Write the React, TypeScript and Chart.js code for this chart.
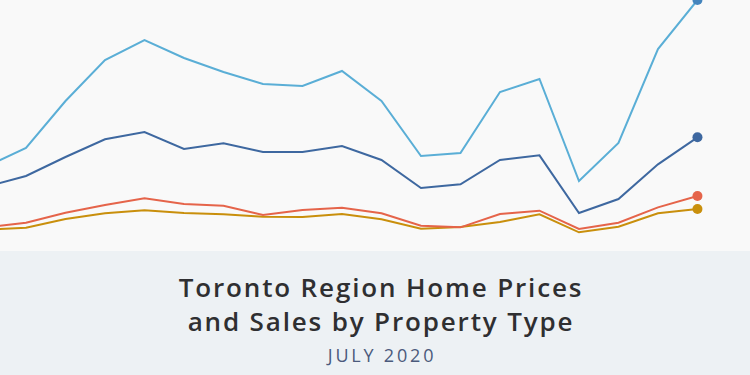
import React, { useEffect, useRef } from "react";
import { Chart, registerables } from "chart.js";

Chart.register(...registerables);

const months = [
  "Jan 2019", "Feb 2019", "Mar 2019", "Apr 2019", "May 2019", "Jun 2019",
  "Jul 2019", "Aug 2019", "Sep 2019", "Oct 2019", "Nov 2019", "Dec 2019",
  "Jan 2020", "Feb 2020", "Mar 2020", "Apr 2020", "May 2020", "Jun 2020", "Jul 2020",
];

const detached = [751, 806, 947, 1070, 1130, 1076, 1034, 998, 992, 1037, 947, 782, 791, 974, 1013, 707, 821, 1103, 1250];
const semiDetached = [690, 722, 779, 832, 854, 803, 820, 794, 794, 812, 770, 686, 697, 770, 784, 611, 653, 757, 838];
const townhouse = [568, 582, 612, 635, 655, 638, 633, 605, 620, 627, 610, 573, 568, 608, 618, 563, 582, 628, 662];
const condo = [561, 567, 593, 610, 619, 611, 607, 600, 599, 608, 592, 564, 569, 584, 607, 553, 570, 610, 623];

const titleLine1 = "Toronto Region Home Prices";
const titleLine2 = "and Sales by Property Type";
const subtitle = "JULY 2020";

const series = [
  { label: "Detached", data: detached, color: "#5aaed6", dot: "#4585bd" },
  { label: "Semi-Detached", data: semiDetached, color: "#3e68a0", dot: "#3e68a0" },
  { label: "Townhouse", data: townhouse, color: "#e5644a", dot: "#e5644a" },
  { label: "Condo Apartment", data: condo, color: "#c98f0c", dot: "#c98f0c" },
];

export default function App() {
  const ref = useRef<HTMLCanvasElement | null>(null);

  useEffect(() => {
    if (!ref.current) return;
    const last = months.length - 1;
    const chart = new Chart(ref.current, {
      type: "line",
      data: {
        labels: months,
        datasets: series.map((s) => ({
          label: s.label,
          data: s.data.map((v, i) => ({ x: i, y: v })),
          borderColor: s.color,
          backgroundColor: s.dot,
          borderWidth: 2,
          tension: 0,
          fill: false,
          clip: false as any,
          pointRadius: s.data.map((_, i) => (i === last ? 5 : 0)),
          pointBackgroundColor: s.dot,
          pointBorderWidth: 0,
          pointHoverRadius: 0,
        })),
      },
      options: {
        responsive: false,
        animation: false,
        events: [],
        layout: { padding: 0, autoPadding: false } as any,
        plugins: { legend: { display: false }, tooltip: { enabled: false }, title: { display: false } },
        scales: {
          x: { type: "linear", display: false, min: 0.342, max: 19.33 },
          y: { type: "linear", display: false, min: 497, max: 1250 },
        },
      },
    });
    return () => chart.destroy();
  }, []);

  return (
    <div style={{ position: "fixed", left: 0, top: 0, width: 750, height: 375, background: "#edf1f4", overflow: "hidden" }}>
      <div style={{ position: "absolute", left: 0, top: 0, width: 750, height: 251, background: "#f9f9f9" }}>
        <canvas ref={ref} width={750} height={251} style={{ display: "block", width: 750, height: 251 }} />
      </div>
      <div style={{ position: "absolute", left: 11, top: 270, width: 740, textAlign: "center", fontFamily: "'Open Sans', sans-serif", fontWeight: 600, fontSize: 26, lineHeight: "34px", color: "#2f2f31", letterSpacing: 1.85 }}>
        <div>{titleLine1}</div>
        <div>{titleLine2}</div>
      </div>
      <div style={{ position: "absolute", left: 12, top: 345, width: 740, textAlign: "center", fontFamily: "'Open Sans', sans-serif", fontWeight: 400, fontSize: 18, lineHeight: "20px", color: "#4b5a7c", letterSpacing: 2.8 }}>
        {subtitle}
      </div>
    </div>
  );
}
